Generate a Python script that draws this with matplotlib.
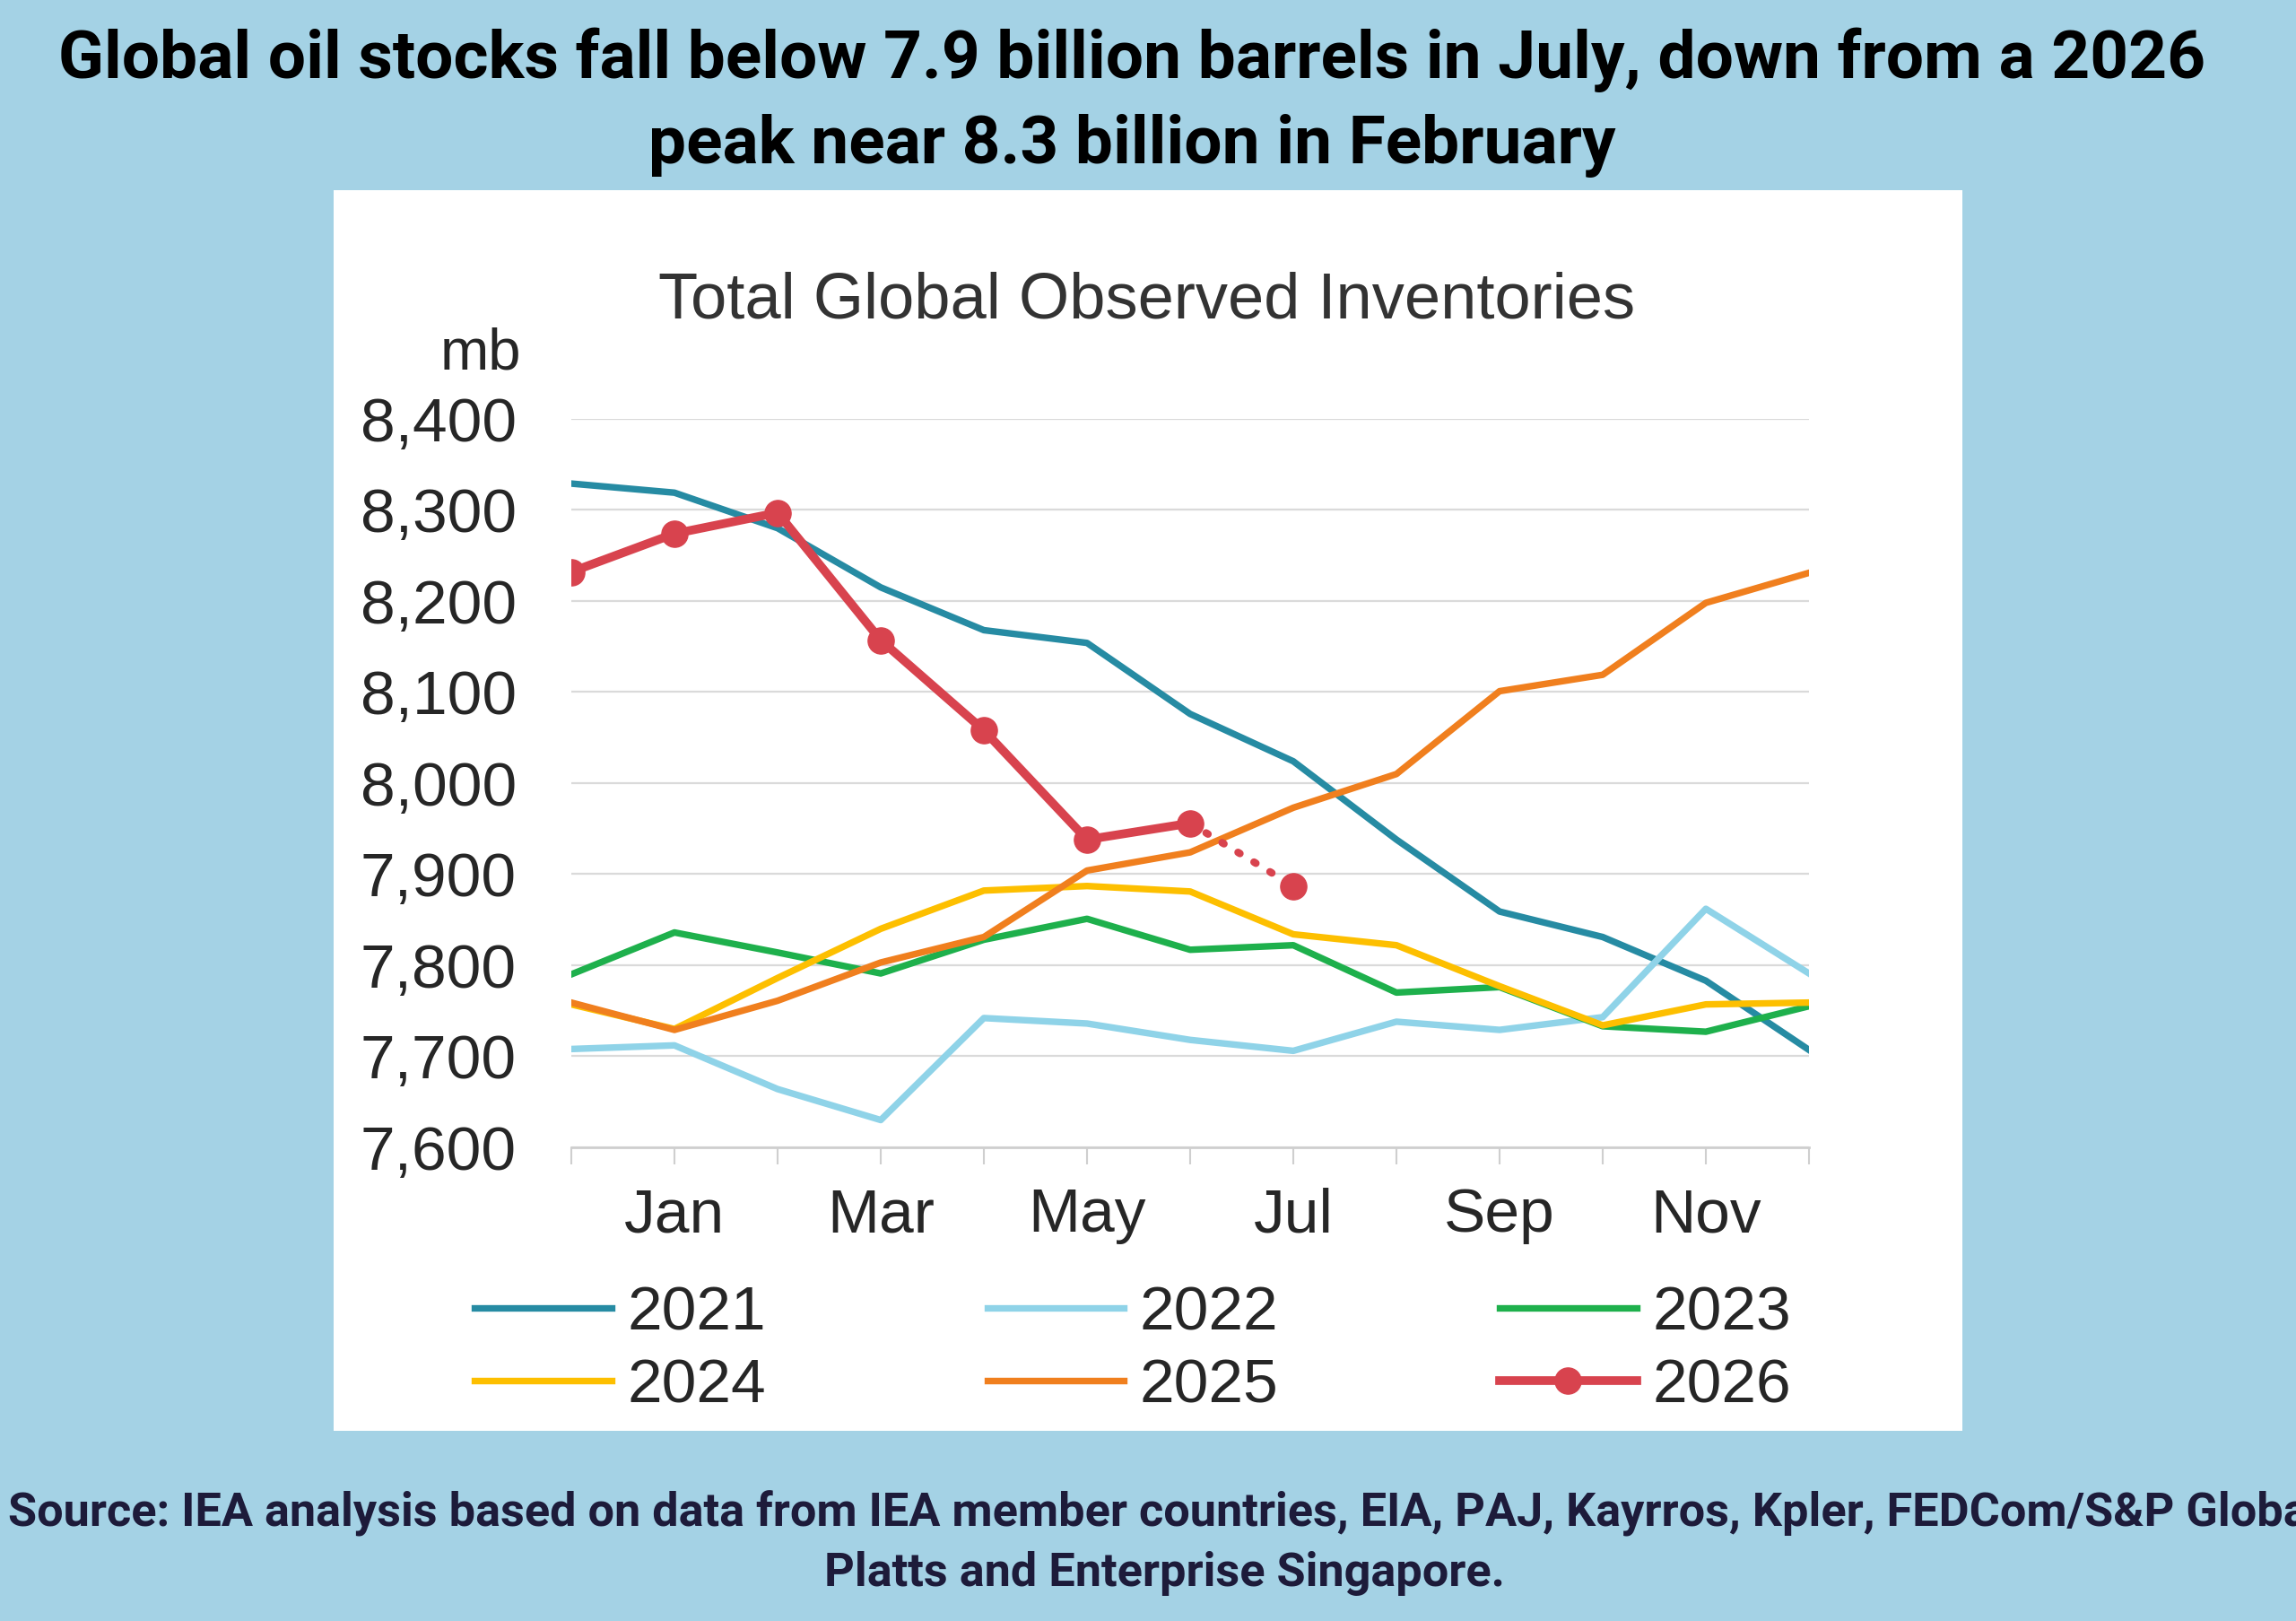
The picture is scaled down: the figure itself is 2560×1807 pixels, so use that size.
import matplotlib
matplotlib.use('Agg')
import numpy as np
import matplotlib.pyplot as plt
from matplotlib.patches import Rectangle

# months shown: Dec (previous year) .. Dec
months = ['Dec', 'Jan', 'Feb', 'Mar', 'Apr', 'May', 'Jun',
          'Jul', 'Aug', 'Sep', 'Oct', 'Nov', 'Dec']
tick_labels = ['', 'Jan', '', 'Mar', '', 'May', '', 'Jul', '', 'Sep', '', 'Nov', '']
y_ticks = [7600, 7700, 7800, 7900, 8000, 8100, 8200, 8300, 8400]

s2021 = [8329, 8319, 8280, 8215, 8168, 8154, 8076, 8024, 7938, 7859, 7831, 7783, 7707]
s2022 = [7708, 7712, 7664, 7630, 7742, 7736, 7718, 7706, 7738, 7729, 7743, 7862, 7791]
s2023 = [7790, 7836, 7814, 7791, 7828, 7851, 7817, 7822, 7770, 7776, 7733, 7727, 7755]
s2024 = [7757, 7730, 7786, 7840, 7882, 7887, 7881, 7834, 7822, 7777, 7734, 7757, 7759]
s2025 = [7759, 7729, 7761, 7803, 7831, 7904, 7924, 7973, 8010, 8101, 8119, 8198, 8231]
s2026 = [8232, 8274, 8297, 8157, 8058, 7938, 7956]     # reported, Dec..Jun
s2026_est = [7956, 7887]                                # Jun -> Jul estimate

years = ['2021', '2022', '2023', '2024', '2025']
series = [s2021, s2022, s2023, s2024, s2025]
colors = ['#268ba3', '#8fd3e8', '#1eb04c', '#fdbf00', '#f07f1e']
red = '#d8434e'

bg = '#a4d2e5'
W, H = 2560, 1807
fig = plt.figure(figsize=(W / 100, H / 100), dpi=100, facecolor=bg)

# white chart panel
fig.patches.append(Rectangle((372 / W, 1 - 1595 / H), (2188 - 372) / W, (1595 - 212) / H,
                             transform=fig.transFigure, facecolor='white', edgecolor='none', zorder=-5))

ax = fig.add_axes([637 / W, 1 - 1279 / H, (2017 - 637) / W, (1279 - 467) / H])
ax.set_facecolor('none')

x = np.arange(len(months))
handles = []
for yr, s, c in zip(years, series, colors):
    h, = ax.plot(x, s, color=c, lw=5.3, label=yr, solid_joinstyle='round')
    handles.append(h)
h26, = ax.plot(x[:len(s2026)], s2026, color=red, lw=7, marker='o', ms=21,
               label='2026', solid_joinstyle='round', zorder=5)
ax.plot(x[len(s2026) - 1:len(s2026) + 1], s2026_est, color=red, lw=6,
        linestyle=(0, (0.3, 2.2)), dash_capstyle='round', zorder=5)
ax.plot(x[len(s2026)], s2026_est[-1], color=red, marker='o', ms=21, zorder=5)
handles.append(h26)

ax.set_xlim(0, 12)
ax.set_ylim(7600, 8400)
ax.set_yticks(y_ticks)
ax.set_yticklabels([f'{v:,}' for v in y_ticks])
ax.set_xticks(x)
ax.set_xticklabels(tick_labels)
ax.grid(axis='y', color='#dadada', lw=1.6)
ax.set_axisbelow(True)
for sp in ['left', 'right', 'top']:
    ax.spines[sp].set_visible(False)
ax.spines['bottom'].set_color('#cfcfcf')
ax.spines['bottom'].set_linewidth(2)
ax.tick_params(axis='y', length=0, pad=44, labelsize=50, labelcolor='#262626')
ax.tick_params(axis='x', length=14, width=1.5, color='#cfcfcf', pad=18,
               labelsize=50, labelcolor='#262626')
for t in ax.get_xticklabels() + ax.get_yticklabels():
    t.set_family('Liberation Sans')

fig.text(1279 / W, 1 - 336 / H, 'Total Global Observed Inventories', ha='center', va='center',
         fontsize=52, family='Liberation Sans', color='#333333')
fig.text(581 / W, 1 - 394 / H, 'mb', ha='right', va='center',
         fontsize=47, family='Liberation Sans', color='#262626')

# legend row-wise: 2021 2022 2023 / 2024 2025 2026
order = [0, 3, 1, 4, 2, 5]
leg = ax.legend([handles[i] for i in order], [handles[i].get_label() for i in order],
                ncol=3, loc='center', bbox_to_anchor=(1263 / W, 1 - 1505 / H),
                bbox_transform=fig.transFigure, frameon=False,
                prop={'family': 'Liberation Sans', 'size': 50},
                handlelength=2.2, handletextpad=0.25, columnspacing=3.55,
                labelspacing=0.25, borderpad=0)
for t in leg.get_texts():
    t.set_color('#262626')

renderer = fig.canvas.get_renderer()


def fit_text(t, width_px):
    # scale font so the rendered text is width_px wide
    w = t.get_window_extent(renderer).width
    t.set_fontsize(t.get_fontsize() * width_px / w)


title1 = fig.text(1262 / W, 1 - 67 / H, 'Global oil stocks fall below 7.9 billion barrels in July, down from a 2026',
                  ha='center', va='center', fontsize=50, family='Roboto', weight='bold', color='black')
title2 = fig.text(1262 / W, 1 - 162 / H, 'peak near 8.3 billion in February',
                  ha='center', va='center', fontsize=50, family='Roboto', weight='bold', color='black')
fit_text(title1, 2392)
title2.set_fontsize(title1.get_fontsize())

src_color = '#1d1b3a'
src1 = fig.text(1298 / W, 1 - 1687 / H,
                'Source: IEA analysis based on data from IEA member countries, EIA, PAJ, Kayrros, Kpler, FEDCom/S&P Global',
                ha='center', va='center', fontsize=33, family='Roboto', weight='bold', color=src_color)
src2 = fig.text(1298 / W, 1 - 1754 / H, 'Platts and Enterprise Singapore.',
                ha='center', va='center', fontsize=33, family='Roboto', weight='bold', color=src_color)
fit_text(src2, 761)
src1.set_fontsize(src2.get_fontsize())

fig.savefig('out.png', dpi=100, facecolor=bg)
